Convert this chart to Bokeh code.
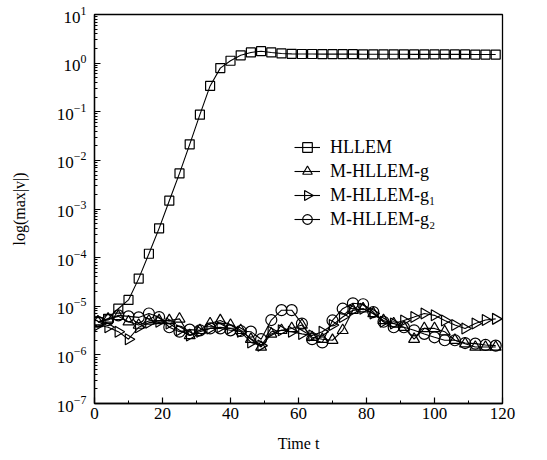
import math
from bokeh.plotting import figure
from bokeh.models import (Legend, LegendItem, FixedTicker, SingleIntervalTicker,
                          LogTickFormatter, Range1d, ColumnDataSource, LinearScale)
from bokeh.embed import file_html
from bokeh.resources import INLINE

# ---- data ----
time = [1, 4, 7, 10, 13, 16, 19, 22, 25, 28, 31, 34, 37, 40, 43, 46, 49, 52, 55, 58,
        61, 64, 67, 70, 73, 76, 79, 82, 85, 88, 91, 94, 97, 100, 103, 106, 109, 112, 115, 118]

hllem = [4.7e-6, 5.5e-6, 8.9e-6, 1.35e-5, 3.7e-5, 1.2e-4, 4.0e-4, 1.48e-3, 5.4e-3, 2.14e-2,
         8.7e-2, 0.34, 0.79, 1.12, 1.45, 1.66, 1.76, 1.66, 1.58, 1.55,
         1.54, 1.54, 1.53, 1.53, 1.53, 1.53, 1.52, 1.52, 1.52, 1.52,
         1.52, 1.51, 1.51, 1.51, 1.51, 1.51, 1.51, 1.50, 1.50, 1.50]

m_g = [4.8e-6, 5.5e-6, 6.2e-6, 4.8e-6, 4.1e-6, 5.0e-6, 5.1e-6, 5.1e-6, 5.5e-6, 2.5e-6,
       3.2e-6, 4.4e-6, 5.1e-6, 4.1e-6, 3.2e-6, 2.1e-6, 1.45e-6, 2.7e-6, 3.2e-6, 3.5e-6,
       4.1e-6, 2.3e-6, 2.1e-6, 2.0e-6, 3.2e-6, 8.3e-6, 8.9e-6, 7.1e-6, 5.1e-6, 4.4e-6,
       3.7e-6, 2.1e-6, 3.5e-6, 3.5e-6, 3.0e-6, 2.0e-6, 1.7e-6, 1.45e-6, 1.45e-6, 1.45e-6]

m_g1 = [4.1e-6, 3.7e-6, 3.0e-6, 2.1e-6, 3.7e-6, 4.6e-6, 4.8e-6, 4.4e-6, 3.2e-6, 2.5e-6,
        3.0e-6, 3.5e-6, 3.7e-6, 3.5e-6, 3.0e-6, 1.8e-6, 1.55e-6, 3.0e-6, 3.2e-6, 3.0e-6,
        2.7e-6, 2.5e-6, 3.0e-6, 4.1e-6, 6.0e-6, 8.3e-6, 8.9e-6, 7.1e-6, 4.8e-6, 4.4e-6,
        5.1e-6, 6.0e-6, 7.1e-6, 6.5e-6, 5.1e-6, 4.1e-6, 3.5e-6, 4.4e-6, 5.2e-6, 5.5e-6]

m_g2 = [4.8e-6, 5.2e-6, 6.5e-6, 6.2e-6, 5.9e-6, 7.1e-6, 6.0e-6, 3.7e-6, 3.0e-6, 3.3e-6,
        3.2e-6, 3.5e-6, 3.5e-6, 3.2e-6, 3.1e-6, 3.0e-6, 2.1e-6, 5.2e-6, 8.3e-6, 8.3e-6,
        4.4e-6, 2.1e-6, 1.8e-6, 5.1e-6, 8.9e-6, 1.15e-5, 1.1e-5, 7.6e-6, 4.8e-6, 3.7e-6,
        3.7e-6, 3.2e-6, 2.7e-6, 2.3e-6, 2.0e-6, 2.0e-6, 1.75e-6, 1.7e-6, 1.6e-6, 1.55e-6]

series_names = ["HLLEM", "M-HLLEM-g", "M-HLLEM-g\u2081", "M-HLLEM-g\u2082"]
y_decades = [1e-7, 1e-6, 1e-5, 1e-4, 1e-3, 1e-2, 1e-1, 1e0, 1e1]

FONT = "Liberation Serif"

# layout (pixels)
W, H = 540, 455
BL, BR, BT, BB = 94, 38, 14, 52
FW, FH = W - BL - BR, H - BT - BB
LEG_X, LEG_Y = 200, 172          # legend bottom-left, from frame bottom-left
ROW, GW = 24, 26                 # legend row height, glyph width

p = figure(width=W, height=H, y_axis_type="log",
           x_range=Range1d(0, 120), y_range=Range1d(1e-7, 1e1),
           output_backend="svg", toolbar_location=None,
           min_border_left=BL, min_border_right=BR, min_border_top=BT, min_border_bottom=BB)
p.grid.visible = False
p.outline_line_color = "black"
p.outline_line_width = 1.3
p.background_fill_color = "white"
p.border_fill_color = "white"

# pixel-space range used only for the legend's right-pointing triangle icon
p.extra_x_ranges = {"px": Range1d(0, FW)}
p.extra_y_ranges = {"py": Range1d(0, FH)}
p.extra_x_scales = {"px": LinearScale()}
p.extra_y_scales = {"py": LinearScale()}

xa = p.xaxis[0]
xa.ticker = SingleIntervalTicker(interval=20, num_minor_ticks=2)
xa.axis_label = "Time t"
ya = p.yaxis[0]
minor = [m * d for d in y_decades[:-1] for m in range(2, 10)]
ya.ticker = FixedTicker(ticks=y_decades, minor_ticks=minor)
ya.formatter = LogTickFormatter()
ya.axis_label = "log(max|v|)"

for ax in (xa, ya):
    ax.axis_line_width = 1.3
    ax.axis_line_color = "black"
    ax.major_tick_in = 6
    ax.major_tick_out = 0
    ax.minor_tick_in = 3
    ax.minor_tick_out = 0
    ax.major_tick_line_width = 1.2
    ax.minor_tick_line_width = 1.0
    ax.major_label_text_font = FONT
    ax.major_label_text_font_size = "17px"
    ax.major_label_text_color = "black"
    ax.axis_label_text_font = FONT
    ax.axis_label_text_font_size = "16px"
    ax.axis_label_text_font_style = "normal"
    ax.axis_label_text_color = "black"
xa.major_label_standoff = 4
xa.axis_label_standoff = 13
ya.major_label_standoff = 8
ya.axis_label_standoff = 26

styles = [
    dict(marker="square", size=9, angle=0.0),
    dict(marker="triangle", size=11, angle=0.0),
    dict(marker="triangle", size=11, angle=-math.pi / 2),
    dict(marker="circle", size=11, angle=0.0),
]
data = [hllem, m_g, m_g1, m_g2]

items = []
for i, (name, ys, st) in enumerate(zip(series_names, data, styles)):
    lr = p.line(time, ys, line_color="black", line_width=1.1)
    sr = p.scatter(time, ys, marker=st["marker"], size=st["size"], angle=st["angle"],
                   line_color="black", line_width=1.2, fill_color="white", fill_alpha=0.0)
    if st["angle"] != 0.0:
        # legend icons ignore marker rotation: draw the rotated icon in pixel space
        cx = LEG_X + GW / 2
        cy = LEG_Y + ROW * (len(series_names) - i) - ROW / 2
        p.scatter([cx], [cy], x_range_name="px", y_range_name="py",
                  marker="triangle", size=10, angle=st["angle"],
                  line_color="black", line_width=1.2, fill_color="white")
        items.append(LegendItem(label=name, renderers=[lr]))
    else:
        items.append(LegendItem(label=name, renderers=[lr, sr]))

legend = Legend(items=items, location=(LEG_X, LEG_Y))
legend.border_line_alpha = 0
legend.background_fill_alpha = 0
legend.padding = 0
legend.margin = 0
legend.glyph_width = GW
legend.glyph_height = ROW
legend.label_height = ROW
legend.spacing = 0
legend.label_standoff = 10
legend.label_text_font = FONT
legend.label_text_font_size = "18px"
legend.label_text_color = "black"
p.add_layout(legend, "center")

open("out.html", "w").write(file_html(p, INLINE))
